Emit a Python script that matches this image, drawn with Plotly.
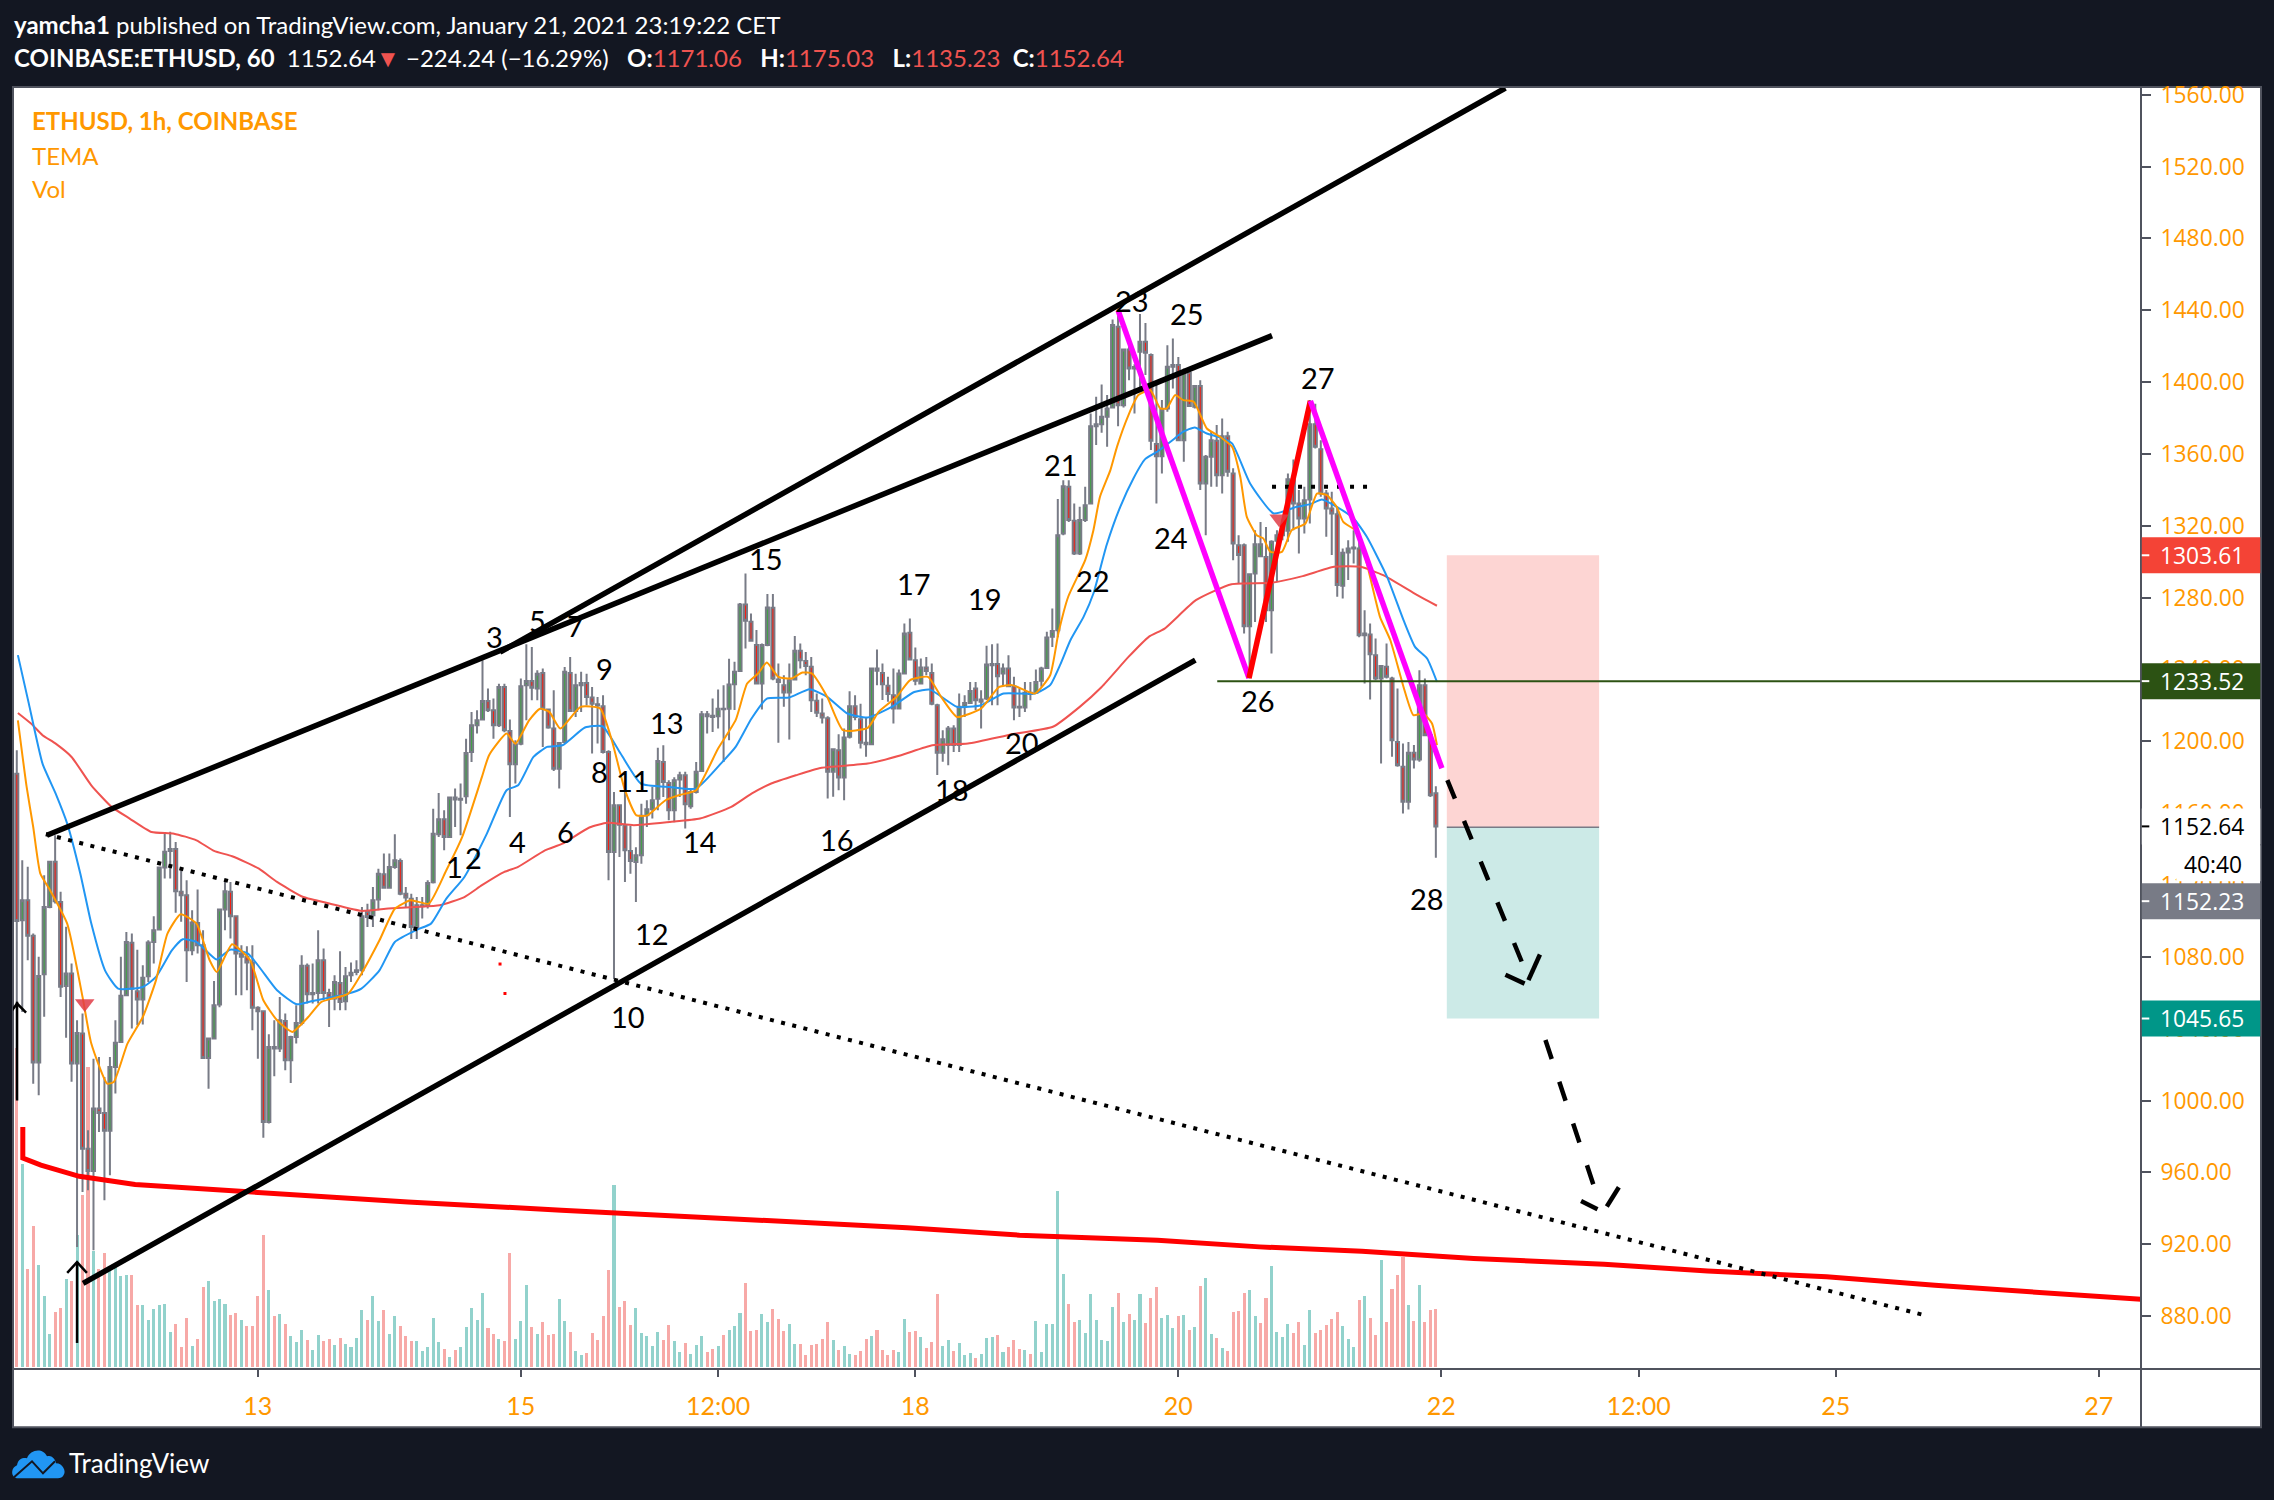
import pandas as pd
import plotly.graph_objects as go

# ---------- candles (hourly, from 2021-01-11 04:00) ----------
opens = [1182,1100.4,1111.5,1091.7,1021.1,1070.3,1107.8,1132.9,1110.6,1063.8,
1070.7,1020.6,1037.3,973.2,960.8,995.5,993.1,983.1,1018.7,1032.6,
1058.6,1087.8,1060.8,1056.2,1069.2,1088.3,1095.2,1129.7,1139,1140,
1116.2,1114.3,1083.7,1098.9,1086.5,1023.7,1034.5,1053.4,1106.3,1116.2,
1102.6,1081.8,1080,1076.8,1051.6,1049.7,988.1,1029.8,1028.9,1044.3,
1022.4,1035.4,1043.2,1075,1059.2,1059.9,1078.1,1059.9,1056.8,1065.5,
1055.3,1069.8,1071.6,1072.5,1105,1103.1,1111.9,1126,1118.5,1130,
1133.4,1115.2,1112.4,1096.6,1108.2,1108.7,1121.5,1148.3,1156.6,1146.8,
1167.6,1167.5,1169.4,1194.1,1209,1212.1,1222.5,1217.3,1209,1230.3,
1205.8,1187.2,1198.7,1231.2,1233.6,1229.4,1238.1,1217.7,1207.1,1184.8,
1199.7,1238.1,1216.9,1231.2,1232.5,1224.4,1220.7,1219.5,1194.1,1138.4,
1164.4,1153.3,1139,1132.8,1136.6,1158.8,1162.2,1168.1,1188.5,1176.8,
1161.6,1178.7,1181.1,1163.8,1171.8,1183.5,1215.1,1214.3,1214,1218.2,
1218.2,1231.8,1239.1,1276.2,1266.6,1253.6,1232.2,1253.6,1274.4,1234.4,
1231.3,1227.2,1234.4,1250.4,1244.8,1241.5,1222.6,1215.5,1212.9,1183,
1195.1,1179.9,1202.5,1219.6,1212.3,1199.2,1198.4,1240.6,1238.1,1230.9,
1225.7,1218.3,1237.8,1260.4,1245.2,1232.2,1241.1,1238.1,1220.1,1193.6,
1197.9,1207.1,1197.9,1219.2,1221.4,1229.4,1222,1223.9,1242.4,1243,
1237.8,1240.6,1230.7,1219.2,1218.8,1227,1227,1233.7,1240.9,1258.2,
1261.9,1315.7,1341.7,1322.8,1304.6,1323.2,1332.4,1375.5,1376.6,1380.7,
1385.9,1430.8,1387.2,1418.2,1407.6,1416.9,1422.5,1415.1,1365.5,1358.8,
1385.4,1408.6,1409.5,1367.7,1405.2,1386.3,1397.8,1343.6,1358.4,1367.4,
1348.2,1369.9,1349.2,1309.2,1309.2,1264.1,1293.5,1303.1,1302.7,1273,
1311.7,1314.8,1317.2,1345.4,1332.4,1324.1,1334.7,1376.6,1362.7,1338,
1329.7,1326.5,1286.6,1305.2,1307.4,1307.4,1259.1,1259.5,1248,1235,
1241.5,1235,1199.7,1185.8,1166.3,1193.6,1189.9,1231.3,1203.4,1171.06]
highs = [1195,1133.8,1130.1,1093,1080,1125.5,1132.9,1147.7,1116.2,1096.7,
1076.3,1044.7,1048.4,983.4,1023.3,1024.3,1013.1,1024.3,1044.7,1080,
1093.9,1093,1084,1075.3,1089.3,1102.6,1130,1149,1149.6,1144,
1128.2,1122.7,1106,1117.5,1094.8,1034.5,1066.6,1106.9,1122.3,1121.7,
1103,1086.5,1085.9,1086.5,1052.5,1050,1036.9,1044.7,1057.7,1048.4,
1036,1053,1080.9,1076.3,1076.3,1094.8,1084.6,1062.3,1069.8,1083.1,
1074.4,1076.8,1078.1,1107.8,1109.6,1118.9,1129.1,1137.5,1137.5,1148.3,
1134.7,1118.9,1115.2,1113.3,1113.3,1122.6,1162.5,1171.3,1161.6,1169,
1173.7,1176.5,1201.5,1216.4,1217.3,1245.2,1229.4,1223.8,1232,1232,
1212.1,1200.6,1235,1254,1252.6,1239.6,1240.5,1218,1228.5,1199.7,
1241.4,1247,1237.7,1238.7,1237.7,1230.3,1224.7,1225.7,1195,1171.8,
1165,1172.8,1153,1141,1165.3,1167.2,1174.6,1196.5,1197.8,1178.3,
1180,1183,1183,1173.7,1188.5,1216.9,1216.9,1223.8,1228.8,1231.2,
1246,1244.3,1277,1293.5,1271.2,1262,1254.5,1282,1282,1243.3,
1236.8,1243.3,1258.6,1254.5,1249.8,1247,1226.6,1223.9,1214,1196,
1204,1207.1,1227.9,1225.7,1221,1213.6,1241.1,1251.1,1243.3,1235.9,
1240.6,1240,1265.6,1268.4,1252.3,1246.1,1247,1243.3,1221,1206.2,
1208.5,1209,1226.6,1225.7,1233.1,1233.1,1228.5,1253.2,1254.1,1254.5,
1243.3,1248,1235.9,1229.4,1233.1,1233.1,1240,1241.5,1261,1274,
1335,1345.4,1345.4,1332.4,1330.6,1341.7,1382.6,1391.9,1398.7,1392.8,
1434.9,1437.3,1418.8,1420.6,1410,1437.9,1433,1416,1399,1390,
1420.6,1424.3,1414,1407.6,1407.6,1398.4,1401.1,1359.4,1372.4,1376.1,
1379.8,1372.4,1352,1314.8,1310.2,1293.5,1317.6,1322.2,1319.4,1312,
1317.6,1324,1349.2,1357,1339.9,1341.7,1390,1388,1367.7,1339.9,
1339,1330.6,1307.4,1312,1317.6,1315.7,1273,1265.6,1257.3,1242.4,
1254.5,1236,1229.4,1198.8,1199.7,1197.9,1239.6,1235,1205.3,1175.03]
lows = [1001,1049.3,1078.1,1009.4,1002.9,1046.6,1107,1109.7,1057.7,1035,
1010.4,918.5,949.1,950,916.6,982.5,944.5,958.4,1003.9,1032,
1058,1040.1,1041.9,1042.3,1066,1076.3,1095,1123.6,1123.6,1104.5,
1099.5,1066,1080.9,1081.8,1023.3,1006.6,1034,1052,1094.8,1090.2,
1058.6,1058.6,1061.4,1039.1,1023.3,979.3,987.2,1013.5,1027,1016.9,
1009.8,1031.7,1041.9,1054,1054,1054,1055.8,1041,1050.3,1050.3,
1050.3,1066,1069.8,1069.8,1096.6,1096.6,1105.9,1118,1118,1129.1,
1114.3,1107.8,1090,1090,1101.3,1106.9,1120.8,1146.8,1139.3,1146.4,
1152.3,1147.7,1165.3,1188.5,1204.3,1211.7,1216.4,1201.5,1208,1205,
1157.9,1176.5,1197.8,1211.7,1222.9,1222.9,1196.9,1207,1183.5,1173.7,
1198.8,1216.4,1213.6,1216.4,1220,1193.2,1198.8,1193.2,1122.6,1067.5,
1135.6,1121.7,1126.3,1110.6,1131.9,1152.3,1157,1161.6,1169,1156,
1155,1169,1151.4,1162.5,1170.9,1183,1204.3,1205.2,1207.1,1188.5,
1200.6,1217.4,1238.7,1251.7,1255.4,1232.2,1217.7,1253,1234,1199.2,
1219.2,1201,1234,1240.6,1236.8,1216.4,1213.6,1209.9,1168.2,1169.1,
1172.8,1167.2,1201.6,1211.8,1196,1191.4,1197.9,1231.3,1223,1222,
1209.9,1217.7,1237.4,1245.2,1231.3,1231.8,1236.8,1220.1,1181.2,1188.6,
1186.7,1194,1194,1213.6,1221,1217.4,1207.1,1223,1220.1,1220.1,
1231.3,1230.4,1211.8,1213.6,1216.4,1222.9,1226.6,1230.4,1240.6,1252.6,
1258,1314.8,1322.2,1303.7,1303.7,1322.2,1332,1365,1371.8,1364,
1385.4,1375.5,1385.9,1401,1382.6,1396.5,1404,1362.2,1332.4,1349.2,
1383.5,1396.5,1367.4,1355.7,1386.3,1385.4,1339.9,1314.8,1341.7,1341.7,
1338,1347.3,1300.9,1287.9,1260,1235,1266.5,1302.7,1266.5,1248.9,
1288.8,1312,1311.1,1317.6,1304.6,1315.7,1321.3,1363,1336.2,1313.9,
1303.7,1280.5,1279.5,1289.8,1299,1258,1232.2,1223.3,1234,1187.6,
1235,1191.4,1185.8,1159.8,1162,1184.9,1188.6,1202.8,1169,1135.23]
closes = [1100,1111.5,1091.7,1021.1,1069.4,1107.8,1132.9,1111,1063.3,1070.7,
1020.6,1037.6,973.2,960.8,995.5,993.1,983.1,1018.7,1032.1,1058.3,
1088.3,1062.3,1056.2,1068.3,1088,1094.8,1129.7,1138.5,1140,1116.5,
1114.3,1083.7,1099.1,1086.5,1023.7,1034.5,1053,1106.3,1116.5,1102.6,
1081.8,1080,1076.8,1051.6,1049.7,988.1,1029.8,1028.9,1044.7,1022.4,
1035.4,1043.2,1075,1059.2,1059.9,1078.1,1059.9,1056.8,1066,1054.9,
1069.2,1071.2,1072.5,1102.6,1102.2,1111.5,1126.3,1118.5,1130,1133.8,
1115.2,1113,1096.6,1108.7,1108.7,1121.1,1148.6,1156.6,1146.8,1168.7,
1168.7,1168,1193.5,1209,1211.7,1222.5,1217.3,1209,1230.3,1206.2,
1187.2,1198.4,1230.7,1233.6,1229.9,1237.7,1218.2,1207.7,1184.8,1199.1,
1238.7,1216.9,1231.2,1232.5,1224.7,1221,1219.9,1194.1,1138.4,1164.4,
1153.6,1139.3,1133.4,1136.6,1158.5,1162.2,1167.2,1189.1,1177.4,1161.6,
1178.3,1181.1,1165,1171.8,1183,1215.1,1214,1213.6,1218.2,1217.9,
1231.6,1238.7,1276.2,1267.1,1256,1232.2,1253.6,1274.5,1235,1233.1,
1227.2,1234,1250.4,1245.2,1241.9,1222.9,1215.9,1213.3,1183,1195.6,
1179.9,1202.1,1219.6,1213.6,1199.2,1198.4,1240.6,1239.3,1231.8,1226.3,
1218.3,1237.8,1260,1245.6,1233.7,1241.1,1239.1,1221,1193.6,1201.2,
1207.1,1197.9,1219.2,1221.4,1228.1,1222.9,1223.3,1242.8,1243,1236.3,
1240.6,1230.7,1218.8,1218.8,1227,1226.3,1233.1,1240.6,1257.8,1261.5,
1314.8,1342.1,1323.2,1304.6,1323.2,1331.5,1375.5,1376.6,1380.7,1385.4,
1431.8,1387.2,1418.2,1407.6,1408.5,1422.5,1416.4,1367.4,1358.8,1384.8,
1408.6,1409.5,1367.7,1405.2,1386.7,1397.8,1343.6,1358.4,1367.7,1348.2,
1369.9,1350.1,1310.2,1303.7,1264.1,1293.1,1309.8,1309.8,1273,1311.1,
1314.8,1319.4,1346,1332.4,1324.1,1334.3,1376.6,1364,1338,1329.7,
1326.9,1287,1305,1307.4,1308,1259.1,1260,1248.5,1235,1241.9,
1235.9,1200.6,1186.7,1166.3,1193.6,1189.9,1231.3,1203.4,1170,1152.64]

# ---------- volume (relative units) ----------
volumes = [957,608,295,422,305,212,98,164,176,263,257,395,515,900,347,293,341,287,302,272,
275,275,185,185,140,173,185,188,104,128,59,146,62,83,239,257,197,203,188,155,
161,140,122,122,212,395,230,152,158,128,92,74,110,80,50,95,77,83,65,86,
68,59,86,170,140,212,137,170,98,152,122,92,77,77,47,59,146,74,53,29,
50,59,119,176,140,221,116,98,83,77,341,83,137,245,119,98,134,95,98,203,
137,104,47,35,41,101,80,152,290,545,179,197,125,176,101,92,62,104,80,125,
77,44,71,38,65,92,44,53,62,95,110,122,161,251,107,110,158,134,173,143,
107,128,68,68,35,65,68,83,134,80,50,62,38,35,47,83,92,110,50,35,
50,44,143,104,107,89,56,74,218,62,80,47,71,35,41,26,38,86,89,95,
44,59,80,53,50,38,137,44,128,128,527,278,188,134,140,101,218,140,80,77,
179,221,134,158,140,218,131,206,239,146,155,116,152,155,110,119,242,266,98,86,
56,47,164,167,221,230,152,131,206,302,104,89,128,101,134,65,170,101,110,125,
143,164,122,83,59,200,212,146,95,320,134,233,275,329,185,137,245,134,170,173]
volume_direction = ("rtrrtttrrt" "rtrrtrrttt" "trrttttttr" "rrtrrttttr" "rtrrrrtrtr"
                    "tttrttrrtr" "ttttrttrtt" "rrrtttttrt" "rtttttrrtr" "rtttrtrrrt"
                    "trttrrrrrt" "rrrtttttrr" "ttrtttrrtr" "tttrrrttrr" "rttrrrrrrt"
                    "rttrrrtrrr" "rttrrtrrrt" "trtttrtttr" "trrrtrtttt" "ttrrtttttt"
                    "trtrttrrrt" "ttrtrtrttr" "trrrrttrrt" "tttrrttrrr" "rrtttrtrrt"
                    "rrrrtrtrrr")

# ---------- moving averages: bar numbers and prices ----------
blue_bars = [0.2,2.2,4.7,7.1,9.2,11.6,13.6,16.1,18.5,23,25.4,28.3,30.3,32.8,36.5,38.9,42.2,47.5,51.1,54,
60.5,62.9,66.2,69,73.1,75.6,78.4,81.7,85.8,89.4,91.5,94.3,96.8,99.6,103.7,106.9,110.2,113.9,119.2,124,
128.8,131.2,134.1,136.9,141,144.7,147.9,151.6,155.3,159.7,163.8,166.7,171.6,176,180.1,185.8,
188.6,190.4,192.3,194.7,196.5,198.9,201.4,203.8,205.9,208.1,211.1,212.9,215,217.2,219.6,221.8,225.1,229.4,233.6,236.1,238.2,240.9,244,246.4,250.1,253.1,255.2,257.4,259.2]
blue_prices = [1248,1221,1187.6,1170.9,1154.2,1126.3,1098.5,1072.5,1062.3,1063.2,1068.8,1083.6,1089.8,1088.3,1078.5,1084,1081.8,1061.4,1053.6,1055.4,
1059.5,1062.3,1072.5,1088.3,1095.2,1098.5,1112.4,1124.5,1148.6,1172.8,1175.5,1191.3,1196.9,1197.8,1207.7,1208.4,1193.2,1176.5,1174.6,1173.7,
1188.6,1196.9,1212.7,1223.8,1224.4,1229,1224.8,1215.5,1213.3,1219.2,1227.5,1228.8,1219.2,1220.1,1226.6,1226.6,
1231.3,1242.4,1256.3,1269.3,1282.3,1309.2,1330.6,1346.4,1357,1361.2,1368.1,1372.4,1374.8,1371.4,1369.2,1365.9,1343.6,1326.9,1330.6,1332.1,1334.7,1330.6,1324.1,1313.9,1291.6,1267.5,1252.6,1246.1,1233.1]
orange_bars = [0.2,1.8,3,4.3,5.9,9.2,12,13.6,16.5,17.7,20.2,23,25.4,27.5,29.9,32.8,35.2,36.5,39.3,42.6,45,47.5,50.3,53.2,55.6,60.5,62.9,66.2,69,71.9,75.2,78.4,81.3,84.9,86.2,89.4,91,93.5,95.5,97.2,99.2,102.9,106.5,108.6,111,113.1,115.1,118.4,120.8,124,
128,131.2,133.3,135.3,136.9,139,141.4,143.4,145.1,147.9,150.8,155.3,157.3,160.6,163,166.3,168.7,171.6,176,179.3,181.7,185.8,
188.6,190.1,191.9,195,196.5,197.7,199.6,200.8,202.9,204.7,206.9,208.7,209.9,211.4,212.9,214.8,217.2,219.6,221.8,223.3,224.5,226.3,227.5,228.8,230.9,232.7,235.2,237.3,239.1,240.9,242.1,244.6,246.4,248.8,250.7,253.1,254.9,256.7,258.3,259.2]
orange_prices = [1211.7,1174.6,1152.3,1126.3,1118,1098.5,1057.7,1031.7,1009.4,1010.3,1031.7,1046.5,1066.9,1092.9,1103.7,1098.5,1078.1,1071.6,1087,1078.1,1055.8,1044.7,1038.2,1046.5,1054.9,1059.5,1070.6,1089.2,1106.8,1111.5,1109.6,1128.2,1146.8,1180.2,1192.3,1204.3,1198.7,1211.7,1218.2,1216.4,1207.1,1219.2,1218.2,1200.6,1172.8,1158.8,1158.8,1167.2,1170,1172.8,
1196,1211.8,1232.2,1237.8,1243.9,1235.9,1235,1238.3,1237.8,1224.8,1206.2,1207.5,1216.4,1224.8,1234,1235.9,1224.8,1213.6,1218.3,1230.3,1231.3,1226.6,
1236.8,1260,1280.5,1300.9,1317.6,1336.2,1351,1364,1381.7,1392.8,1395.6,1385.4,1385.4,1392.8,1390,1389.1,1374.2,1369.6,1364,1347.3,1325,1314.8,1313,1305.5,1305.5,1317.6,1321.3,1338,1337.1,1330.6,1322.2,1316.7,1299,1269.3,1256.3,1230.3,1214.6,1215.5,1209.9,1197.9]
red_bars = [0.2,2.6,4.7,7.1,10,13.6,17.3,20.6,24.6,28.7,32.8,36,39.3,44.2,47.5,52.3,57.2,62.9,67.8,72.7,77.2,81.7,84.9,89,91.5,96.4,99.6,104.5,107.8,112.6,119.2,
124.7,130.4,134.1,137.7,142.2,146.7,155.3,161.4,167.1,173.6,181.7,189.1,194,198,202.9,206.6,209.5,215.2,221.7,229,234.7,240.4,245.3,249.4,254.9,259.2]
red_prices = [1215.8,1209.9,1203.4,1198.7,1191.3,1175.5,1163.5,1157,1149.5,1148.6,1144.9,1139,1136,1129.1,1121.7,1113.3,1109.6,1105.6,1106.9,1107.8,1108.7,1113.3,1119.9,1127.3,1130.1,1139.3,1143,1152,1154.6,1153.3,1155.1,
1157,1163.5,1170.9,1176.5,1181.1,1185.2,1187.6,1192.3,1197.8,1198.8,1204,1208.1,1219.2,1230.3,1247,1258.2,1262.8,1278.6,1287.5,1288.3,1292,1297.2,1297.2,1292.5,1282.7,1275.5]
long_ma_bars = [1.1,1.1,4.4,11.4,21.6,41.6,71.4,99.4,143,162.5,183,208.2,226.8,245.5,265.9,289.7,308.6,330.3,350.1,374.4,387.7]
long_ma_prices = [985.3,968,964,957.8,953.2,949.1,943.5,938.9,932.4,929.2,925,922.2,918.5,916,912,908.8,905.1,901.8,897.1,892.5,889.3]

# ---------- axis labels ----------
price_ticks = list(range(880, 1561, 40))
time_tick_dates = ["2021-01-13", "2021-01-15", "2021-01-16 12:00", "2021-01-18", "2021-01-20",
                   "2021-01-22", "2021-01-23 12:00", "2021-01-25", "2021-01-27"]
time_tick_labels = ["13", "15", "12:00", "18", "20", "22", "12:00", "25", "27"]

# ---------- wave labels: text, bar, price ----------
wave_text = ["1","2","3","4","5","6","7","8","9","10","11","12","13","14","15","16","17","18","19","20","21","22","23","24","25","26","27","28"]
wave_bars = [79.8,83.3,87.2,91.3,95.1,100.2,102,106.3,107.2,111.6,112.5,115.9,118.6,124.7,136.8,149.7,163.7,170.7,176.7,183.5,190.6,196.5,203.6,210.6,213.6,226.6,237.5,257.4]
wave_prices = [1130.5,1135.5,1258.2,1144,1267.1,1149.6,1264.7,1183,1240.6,1046.6,1178.4,1093.2,1210.3,1144,1302,1145.5,1288.1,1173.4,1279.7,1199.5,1354.4,1289.8,1445.7,1313.7,1438.5,1222.9,1402.8,1112.7]

# ---------- hand-drawn lines: bars and prices ----------
drawn_lines = [
    # bars, prices, colour, width, dash
    ([5.5, 229.1], [1147.7, 1425.9], "#000000", 5.5, None),
    ([88.2, 271.7], [1249.7, 1563.8], "#000000", 5.5, None),
    ([12.1, 215.1], [898.2, 1245.2], "#000000", 5.5, None),
    ([5.3, 348.9], [1148.3, 879.9], "#000000", 4, "4px,7.5px"),
    ([229.1, 247], [1341.7, 1341.7], "#000000", 4, "4px,9px"),
    ([201, 224.9], [1440, 1235.2], "#ff00ff", 5.5, None),
    ([224.9, 236.1], [1235.2, 1389.6], "#ff0000", 5.5, None),
    ([236.1, 260.1], [1389.6, 1185], "#ff00ff", 5.5, None),
    ([261.1, 274.9], [1178.4, 1075.6], "#000000", 4.5, "20px,24px"),
    ([271.7, 275.2], [1070, 1065.1], "#000000", 4.5, None),
    ([275.9, 278], [1067, 1081.3], "#000000", 4.5, None),
    ([279, 288.9], [1033.7, 942.6], "#000000", 4.5, "20px,24px"),
    ([285.5, 288.5], [944, 939.5], "#000000", 4.5, None),
    ([290.2, 292.4], [941, 951.7], "#000000", 4.5, None),
    ([0.05, 0.05], [1055, 1000], "#000000", 2.5, None),
    ([-0.9, 0.05, 1.7], [1050, 1054, 1049], "#000000", 2.5, None),
    ([11, 11], [910, 865], "#000000", 2.5, None),
    ([9.2, 11, 12.8], [904, 910, 904], "#000000", 2.5, None),
]
signal_bars = [12.4, 230.4]
signal_prices = [1054, 1324]
dot_bars = [88.2, 89.1]
dot_prices = [1076, 1059.6]

# ---------- position tool and price labels ----------
target_price = 1303.61
entry_price = 1152.23
stop_price = 1045.65
level_price = 1233.52
last_price = 1152.64

START = pd.Timestamp("2021-01-11 04:00")
def bar_time(i):
    return START + pd.Timedelta(hours=float(i))
def times(seq):
    return [bar_time(i) for i in seq]

L, R, T, B = 13.0, 2140.7, 88.0, 1368.7
def px(x):
    return (x - L) / (R - L)
def py(y):
    return 1 - (y - T) / (B - T)

DARK = "#131722"
AXIS = "#50535e"
ORANGE = "#ff9800"
GRAY = "#787b86"

fig = go.Figure()
fig.add_trace(go.Bar(
    x=times(range(len(volumes))), y=volumes, yaxis="y", width=2000000,
    marker=dict(color=["#f7a9a7" if c == "r" else "#92d2cc" for c in volume_direction], line_width=0),
    showlegend=False))

def line(xs, ys, color, width, dash=None, spline=False):
    fig.add_trace(go.Scatter(x=times(xs), y=ys, yaxis="y2", mode="lines", showlegend=False,
                             line=dict(color=color, width=width, dash=dash,
                                       shape="spline" if spline else "linear",
                                       **({"smoothing": 0.5} if spline else {}))))

fig.add_trace(go.Candlestick(
    x=times(range(len(opens))), open=opens, high=highs, low=lows, close=closes, yaxis="y2",
    increasing=dict(fillcolor="#43a047", line=dict(color=GRAY, width=2)),
    decreasing=dict(fillcolor="#f21f12", line=dict(color=GRAY, width=2)),
    whiskerwidth=0, showlegend=False))

line(red_bars, red_prices, "#ef5350", 2, spline=True)
line(blue_bars, blue_prices, "#2196f3", 2, spline=True)
line(orange_bars, orange_prices, ORANGE, 2, spline=True)
line(long_ma_bars, long_ma_prices, "#ff0000", 5)
for bars, prices, color, width, dash in drawn_lines:
    line(bars, prices, color, width, dash)

fig.add_trace(go.Scatter(x=times(signal_bars), y=signal_prices, yaxis="y2", mode="markers", showlegend=False,
                         marker=dict(symbol="triangle-down", size=17, color="rgba(224,60,70,0.85)",
                                     line=dict(width=0))))
fig.add_trace(go.Scatter(x=times(dot_bars), y=dot_prices, yaxis="y2", mode="markers", showlegend=False,
                         marker=dict(symbol="square", size=3, color="#ff0000")))

shapes = [
    dict(type="rect", xref="paper", yref="paper", x0=px(13), x1=px(2260.7), y0=py(87), y1=py(1427),
         fillcolor="#ffffff", line=dict(color=AXIS, width=2), layer="below"),
    dict(type="rect", xref="x", yref="y2", x0=bar_time(261), x1=bar_time(288.8), y0=entry_price, y1=target_price,
         fillcolor="#fdd5d3", line_width=0, layer="below"),
    dict(type="rect", xref="x", yref="y2", x0=bar_time(261), x1=bar_time(288.8), y0=stop_price, y1=entry_price,
         fillcolor="#cceae7", line_width=0, layer="below"),
    dict(type="line", xref="x", yref="y2", x0=bar_time(261), x1=bar_time(288.8), y0=entry_price, y1=entry_price,
         line=dict(color=GRAY, width=1.5), layer="below"),
    dict(type="line", xref="x", yref="y2", x0=bar_time(219.1), x1=bar_time(387.7), y0=level_price, y1=level_price,
         line=dict(color="#2c5213", width=2)),
    dict(type="line", xref="paper", yref="paper", x0=px(2140.7), x1=px(2140.7), y0=py(87), y1=py(1427),
         line=dict(color=AXIS, width=2)),
    dict(type="line", xref="paper", yref="paper", x0=px(13), x1=px(2260.7), y0=py(1368.7), y1=py(1368.7),
         line=dict(color=AXIS, width=2)),
]

annotations = []
BOX_X0, BOX_X1 = px(2141.5), px(2260)
TEXT_X = px(2158)
TICK_X1 = px(2149)
price_boxes = [
    (1303.61, 1303.61, "#f44336", "#ffffff"),
    (1233.52, 1233.52, "#2c5213", "#ffffff"),
    (1152.64, last_price, "#ffffff", "#000000"),
    (1111.0, 1152.23, "#787b86", "#ffffff"),
    (1045.65, 1045.65, "#009688", "#ffffff"),
]
for at, label, bg, fg in price_boxes:
    shapes.append(dict(type="rect", xref="paper", yref="y2", ysizemode="pixel", yanchor=at, y0=-18, y1=18,
                       x0=BOX_X0, x1=BOX_X1, fillcolor=bg, line_width=0))
    shapes.append(dict(type="line", xref="paper", yref="y2", x0=BOX_X0, x1=TICK_X1, y0=at, y1=at,
                       line=dict(color=fg, width=2)))
    annotations.append(dict(xref="paper", yref="y2", x=TEXT_X, y=at, text=f"{label:.2f}", showarrow=False,
                            xanchor="left", yanchor="middle", font=dict(family="Open Sans", size=22.8, color=fg)))
shapes.append(dict(type="rect", xref="paper", yref="paper", x0=px(2176), x1=BOX_X1, y0=py(881), y1=py(845),
                   fillcolor="#ffffff", line_width=0))
annotations.append(dict(xref="paper", yref="paper", x=px(2244), y=py(864), text="40:40", showarrow=False,
                        xanchor="right", yanchor="middle", font=dict(family="Open Sans", size=22.8, color="#000000")))

for text, bar, price in zip(wave_text, wave_bars, wave_prices):
    annotations.append(dict(xref="x", yref="y2", x=bar_time(bar), y=price, text=text, showarrow=False,
                            font=dict(family="Lato", size=29, color="#000000")))

HEAD = "Lato"
RED = "#ef5350"
GAP3 = "\u00a0\u00a0\u00a0"
GAP2 = "\u00a0\u00a0"
annotations += [
    dict(xref="paper", yref="paper", x=px(12), y=py(25), xanchor="left", yanchor="middle", showarrow=False,
         text="<b>yamcha1</b> published on TradingView.com, January 21, 2021 23:19:22 CET",
         font=dict(family=HEAD, size=24, color="#ffffff")),
    dict(xref="paper", yref="paper", x=px(12), y=py(58), xanchor="left", yanchor="middle", showarrow=False,
         text=f'<b>COINBASE:ETHUSD, 60</b>  1152.64<span style="color:{RED}">▼</span>\u00a0−224.24 (−16.29%){GAP3}'
              f'<b>O:</b><span style="color:{RED}">1171.06</span>{GAP3}<b>H:</b><span style="color:{RED}">1175.03</span>{GAP3}'
              f'<b>L:</b><span style="color:{RED}">1135.23</span>{GAP2}<b>C:</b><span style="color:{RED}">1152.64</span>',
         font=dict(family=HEAD, size=24, color="#ffffff")),
    dict(xref="paper", yref="paper", x=px(30), y=py(120), xanchor="left", yanchor="middle", showarrow=False,
         text="<b>ETHUSD, 1h, COINBASE</b>", font=dict(family=HEAD, size=24, color=ORANGE)),
    dict(xref="paper", yref="paper", x=px(30), y=py(155), xanchor="left", yanchor="middle", showarrow=False,
         text="TEMA", font=dict(family=HEAD, size=24, color=ORANGE)),
    dict(xref="paper", yref="paper", x=px(30), y=py(188), xanchor="left", yanchor="middle", showarrow=False,
         text="Vol", font=dict(family=HEAD, size=24, color=ORANGE)),
    dict(xref="paper", yref="paper", x=px(67), y=py(1463), xanchor="left", yanchor="middle", showarrow=False,
         text="TradingView", font=dict(family=HEAD, size=26, color="#ffffff")),
]

def pt(x, y):
    return f"{px(x):.5f},{py(y):.5f}"
cloud = ("M " + pt(18, 1478) + " C " + pt(11, 1478) + " " + pt(10, 1468) + " " + pt(17, 1465)
         + " C " + pt(18, 1458) + " " + pt(24, 1457) + " " + pt(27, 1458)
         + " C " + pt(30, 1449) + " " + pt(43, 1447) + " " + pt(47, 1456)
         + " C " + pt(52, 1454) + " " + pt(56, 1460) + " " + pt(56, 1463)
         + " C " + pt(63, 1463) + " " + pt(66, 1471) + " " + pt(64, 1474)
         + " C " + pt(63, 1477) + " " + pt(60, 1478) + " " + pt(58, 1478) + " Z")
shapes.append(dict(type="path", xref="paper", yref="paper", path=cloud, fillcolor="#2196f3", line_width=0))
shapes.append(dict(type="path", xref="paper", yref="paper",
                   path="M " + pt(14, 1477) + " L " + pt(32, 1461) + " L " + pt(43, 1473) + " L " + pt(55, 1461),
                   line=dict(color=DARK, width=2)))

fig.update_layout(
    width=2274, height=1500, autosize=False,
    margin=dict(l=L, r=2274 - R, t=T, b=1500 - B, pad=0),
    paper_bgcolor=DARK, plot_bgcolor="rgba(0,0,0,0)",
    showlegend=False, bargap=0, boxgap=0.2, dragmode=False,
    font=dict(family="Lato"),
    xaxis=dict(type="date", range=[bar_time(-0.69), bar_time(387.7)],
               rangeslider=dict(visible=False), showgrid=False, zeroline=False, showline=False,
               tickmode="array", tickvals=time_tick_dates, ticktext=time_tick_labels,
               ticks="outside", ticklen=7, tickwidth=2, tickcolor=AXIS,
               ticklabelstandoff=8, tickfont=dict(family="Lato", size=25, color=ORANGE)),
    yaxis=dict(range=[-6, 3836], visible=False, fixedrange=True),
    yaxis2=dict(range=[850.5, 1563.8], overlaying="y", side="right", anchor="x",
                showgrid=False, zeroline=False, showline=False,
                tickmode="array", tickvals=price_ticks, ticktext=[f"{p}.00" for p in price_ticks],
                ticks="outside", ticklen=9, tickwidth=2, tickcolor=AXIS,
                ticklabelstandoff=5, tickfont=dict(family="Open Sans", size=22.8, color=ORANGE)),
    shapes=shapes, annotations=annotations,
)

fig.write_html("out.html", config={"displayModeBar": False},
               post_script="document.body.style.margin='0';document.body.style.background='#131722';")
